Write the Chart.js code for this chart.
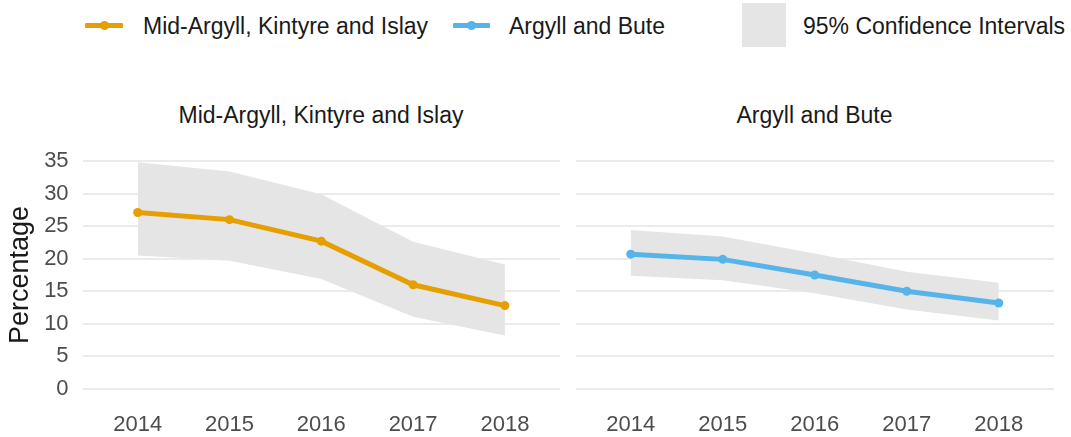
<!DOCTYPE html>
<html>
<head>
<meta charset="utf-8">
<script src="https://cdn.jsdelivr.net/npm/chart.js@4/dist/chart.umd.min.js"></script>
<style>
  html, body { margin: 0; padding: 0; background: #fff; }
  body { width: 1071px; height: 437px; position: relative; overflow: hidden;
         font-family: 'Liberation Sans', Arial, sans-serif; color: #1a1a1a; }
  .abs { position: absolute; }
  .lg-text { font-size: 23px; line-height: 23px; white-space: nowrap; }
  .lg-line { height: 5px; border-radius: 1px; }
  .lg-dot { width: 9px; height: 9px; border-radius: 50%; }
  .title { font-size: 23px; line-height: 23px; text-align: center; white-space: nowrap; }
</style>
</head>
<body>
<!-- legend -->
<div class="abs lg-line" style="left:85px;top:23px;width:38px;background:#E69F00"></div>
<div class="abs lg-dot" style="left:99.5px;top:21px;background:#E69F00"></div>
<div class="abs lg-text" style="left:143px;top:15px">Mid-Argyll, Kintyre and Islay</div>
<div class="abs lg-line" style="left:453px;top:23px;width:37px;background:#56B4E9"></div>
<div class="abs lg-dot" style="left:467px;top:21px;background:#56B4E9"></div>
<div class="abs lg-text" style="left:509px;top:15px">Argyll and Bute</div>
<div class="abs" style="left:742px;top:3px;width:44px;height:44px;background:#e5e5e5"></div>
<div class="abs lg-text" style="left:803px;top:15px">95% Confidence Intervals</div>

<!-- panel titles -->
<div class="abs title" style="left:82px;width:478px;top:104px">Mid-Argyll, Kintyre and Islay</div>
<div class="abs title" style="left:575px;width:479px;top:104px">Argyll and Bute</div>

<div class="abs" style="left:0;top:130px;width:565px;height:307px"><canvas id="left"></canvas></div>
<div class="abs" style="left:565px;top:130px;width:506px;height:307px"><canvas id="right"></canvas></div>

<script>
var years = [2014, 2015, 2016, 2017, 2018];
var yTicks = [0, 5, 10, 15, 20, 25, 30, 35];

// Mid-Argyll, Kintyre and Islay
var midValues = [27.1, 26.0, 22.7, 16.0, 12.8];
var midUpper = [34.8, 33.4, 29.9, 22.6, 19.1];
var midLower = [20.5, 19.7, 16.9, 11.1, 8.2];

// Argyll and Bute
var abValues = [20.7, 19.9, 17.5, 15.0, 13.2];
var abUpper = [24.4, 23.4, 20.8, 18.0, 16.3];
var abLower = [17.4, 16.7, 14.7, 12.2, 10.5];

Chart.defaults.font.family = "'Liberation Sans', Arial, sans-serif";

function pts(vals) {
  return years.map(function (yr, i) { return { x: yr, y: vals[i] }; });
}

function noPad(s) {
  s.paddingTop = 0; s.paddingBottom = 0; s.paddingLeft = 0; s.paddingRight = 0;
}

function makeChart(id, name, color, vals, upper, lower, showY) {
  var ctx = document.getElementById(id);
  return new Chart(ctx, {
    type: 'line',
    data: {
      datasets: [
        // first dataset is drawn on top
        { label: name, data: pts(vals), borderColor: color, backgroundColor: color,
          borderWidth: 5, pointRadius: 4.5, pointHoverRadius: 4.5, pointBorderWidth: 0,
          fill: false, tension: 0 },
        { label: 'upper', data: pts(upper), borderWidth: 0, pointRadius: 0, fill: false, tension: 0 },
        { label: 'lower', data: pts(lower), borderWidth: 0, pointRadius: 0,
          fill: '-1', backgroundColor: '#e5e5e5', tension: 0 }
      ]
    },
    options: {
      responsive: true,
      maintainAspectRatio: false,
      animation: false,
      layout: { padding: { top: 19.6, right: showY ? 5 : 17, left: 0, bottom: 0 } },
      plugins: { legend: { display: false }, tooltip: { enabled: false } },
      scales: {
        x: {
          type: 'linear',
          min: 2013.4,
          max: 2018.6,
          grid: { display: false },
          border: { display: false },
          afterBuildTicks: function (s) { s.ticks = years.map(function (v) { return { value: v }; }); },
          afterFit: function (s) { s.height = 36.6; noPad(s); },
          ticks: {
            padding: 3,
            color: '#4d4d4d',
            font: { size: 22 },
            maxRotation: 0,
            callback: function (v) { return String(v); }
          }
        },
        y: {
          min: -1.75,
          max: 36.75,
          grid: { color: '#ebebeb', lineWidth: 2, drawTicks: false },
          border: { display: false },
          afterBuildTicks: function (s) { s.ticks = yTicks.map(function (v) { return { value: v }; }); },
          afterFit: function (s) { s.width = showY ? 82.6 : 10.5; noPad(s); },
          title: {
            display: showY,
            text: 'Percentage',
            color: '#1a1a1a',
            font: { size: 27 },
            padding: { top: 4, bottom: 0 }
          },
          ticks: {
            display: showY,
            padding: 14,
            color: '#4d4d4d',
            font: { size: 22 }
          }
        }
      }
    }
  });
}

makeChart('left', 'Mid-Argyll, Kintyre and Islay', '#E69F00', midValues, midUpper, midLower, true);
makeChart('right', 'Argyll and Bute', '#56B4E9', abValues, abUpper, abLower, false);
</script>
</body>
</html>
